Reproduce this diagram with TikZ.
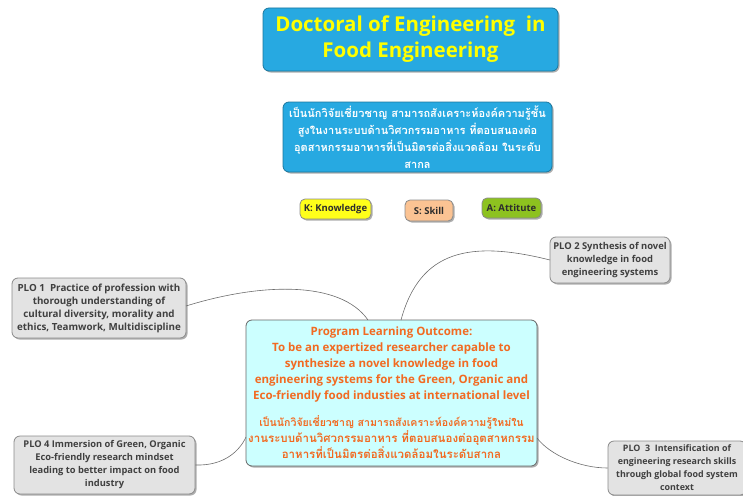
\documentclass[tikz,border=0pt]{standalone}
\usepackage{fontspec}
\setmainfont{Open Sans}
\newfontfamily\thaifont[Script=Thai]{Loma}
\usetikzlibrary{shadows}
\definecolor{titleblue}{HTML}{27A9E1}
\definecolor{ttlyellow}{HTML}{FFFF00}
\definecolor{maincyan}{HTML}{CCFFFF}
\definecolor{mainorange}{HTML}{F26A21}
\definecolor{plogray}{HTML}{E3E3E3}
\definecolor{ploborder}{HTML}{8A8A8A}
\definecolor{plotext}{HTML}{404040}
\definecolor{kyellow}{HTML}{FFFF1A}
\definecolor{speach}{HTML}{FBC393}
\definecolor{agreen}{HTML}{8DC21F}
\tikzset{
  box/.style={rounded corners=6pt, draw=ploborder, line width=0.8pt, align=center, inner sep=0pt,
    drop shadow={shadow xshift=1.5pt, shadow yshift=-1.5pt, opacity=0.45, fill=black!70}},
  titlebox/.style={box, fill=titleblue, draw=titleblue!70!black, text=ttlyellow, font=\fontsize{20.5}{26}\selectfont\bfseries},
  thaibox/.style={box, fill=titleblue, draw=titleblue!70!black, text=white, font=\thaifont\fontsize{11}{17}\selectfont\bfseries},
  tagbox/.style={box, rounded corners=5pt, text=plotext!70!black, font=\fontsize{9.5}{11}\selectfont\bfseries},
  plobox/.style={box, fill=plogray, text=plotext},
  mainbox/.style={box, fill=maincyan, draw=gray!80!black, text=mainorange, font=\fontsize{11.5}{16}\selectfont\bfseries},
  link/.style={draw=gray!85!black, line width=0.6pt}
}
\begin{document}
\begin{tikzpicture}[x=1pt,y=-1pt]
\useasboundingbox (0,0) rectangle (743,495);
\clip (0,0) rectangle (743,495);
\node[titlebox, minimum width=295pt, minimum height=63pt] (title) at (410.5,39.5)
  {Doctoral of Engineering\ \ in\\Food Engineering};
\node[thaibox, minimum width=269pt, minimum height=70pt] (thai) at (417.5,137)
  {เป็นนักวิจัยเชี่ยวชาญ สามารถสังเคราะห์องค์ความรู้ชั้น\\สูงในงานระบบด้านวิศวกรรมอาหาร ที่ตอบสนองต่อ\\อุตสาหกรรมอาหารที่เป็นมิตรต่อสิ่งแวดล้อม ในระดับ\\สากล};
\node[tagbox, fill=kyellow, minimum width=71pt, minimum height=20pt] (k) at (335.5,209) {K: Knowledge};
\node[tagbox, fill=speach, minimum width=48pt, minimum height=21pt] (s) at (429,210.5) {S: Skill};
\node[tagbox, fill=agreen, minimum width=59pt, minimum height=20pt] (a) at (511.5,208) {A: Attitute};
\node[mainbox, minimum width=291pt, minimum height=146pt] (main) at (391.5,393)
  {Program Learning Outcome:\\To be an expertized researcher capable to\\synthesize a novel knowledge in food\\engineering systems for the Green, Organic and\\Eco-friendly food industies at international level\\[11pt]
  \thaifont\fontsize{10.6}{16}\selectfont เป็นนักวิจัยเชี่ยวชาญ สามารถสังเคราะห์องค์ความรู้ใหม่ใน\\\thaifont งานระบบด้านวิศวกรรมอาหาร ที่ตอบสนองต่ออุตสาหกรรม\\\thaifont อาหารที่เป็นมิตรต่อสิ่งแวดล้อมในระดับสากล};
\node[plobox, font=\fontsize{9.8}{13}\selectfont\bfseries, minimum width=174pt, minimum height=60pt] (plo1) at (99,308)
  {PLO 1\ \ Practice of profession with\\thorough understanding of\\cultural diversity, morality and\\ethics, Teamwork, Multidiscipline};
\node[plobox, font=\fontsize{9.4}{13}\selectfont\bfseries, minimum width=120pt, minimum height=46pt] (plo2) at (610,260)
  {PLO 2 Synthesis of novel\\knowledge in food\\engineering systems};
\node[plobox, font=\fontsize{9.3}{13}\selectfont\bfseries, minimum width=181pt, minimum height=58pt] (plo4) at (104.5,465)
  {PLO 4 Immersion of Green, Organic\\Eco-friendly research mindset\\leading to better impact on food\\industry};
\node[plobox, font=\fontsize{8.9}{13}\selectfont\bfseries, minimum width=138pt, minimum height=54pt] (plo3) at (677,468)
  {PLO\ \ 3\ \ Intensification of\\engineering research skills\\through global food system\\context};
\coordinate (m1) at (368,320);
\coordinate (m2) at (401,320);
\coordinate (m4) at (246,437);
\coordinate (m3) at (537,438);
\coordinate (p1) at (186,306);
\coordinate (p2) at (550,260);
\draw[link] (p1) .. controls (260,283) and (340,280) .. (m1);
\draw[link] (m2) .. controls (420,250) and (470,240) .. (p2);
\draw[link] (plo4.east) .. controls (225,466) and (240,450) .. (m4);
\draw[link] (m3) .. controls (550,455) and (580,468) .. (plo3.west);
\end{tikzpicture}
\end{document}
